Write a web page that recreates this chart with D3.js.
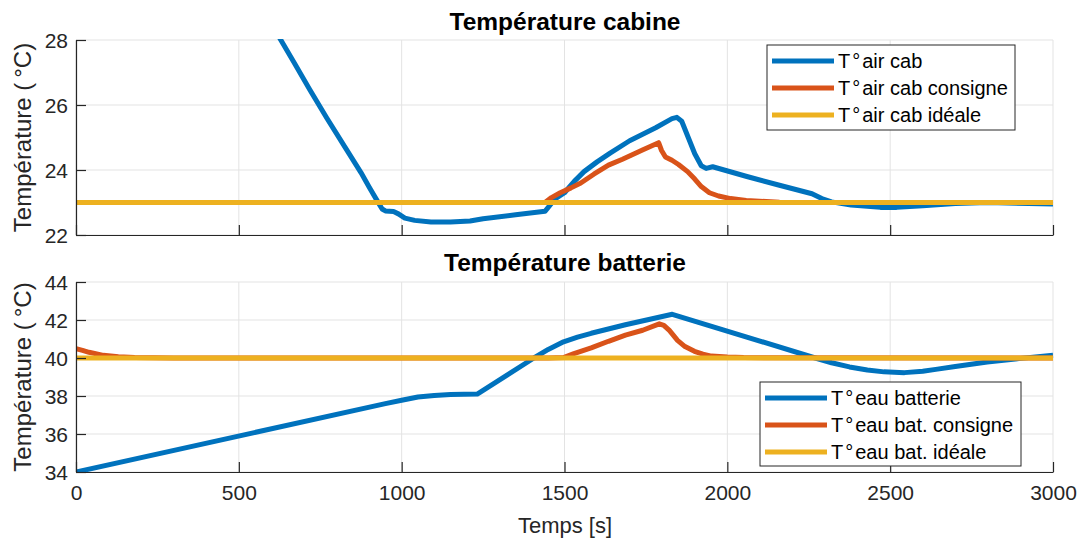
<!DOCTYPE html>
<html><head><meta charset="utf-8">
<script src="https://cdn.jsdelivr.net/npm/d3@7"></script>
<style>
body{margin:0;background:#fff;}
svg text{font-family:"Liberation Sans",Arial,Helvetica,sans-serif;}
</style></head>
<body>
<svg id="c" width="1079" height="542"></svg>
<script>
// ---- Data ----
const xTicks = [0,500,1000,1500,2000,2500,3000];
const cabTicks = [22,24,26,28];
const batTicks = [34,36,38,40,42,44];

const cabAirT = [500,600,629,670,718,770,825,875,900,925,940,950,975,990,1010,1040,1090,1150,1210,1250,1350,1440,1450,1470,1500,1530,1560,1600,1640,1700,1780,1830,1845,1860,1880,1900,1920,1935,1955,2060,2160,2260,2290,2320,2380,2470,2520,2600,2700,2800,3000];
const cabAirV = [30.3,28.5,28.0,27.3,26.47,25.6,24.72,23.92,23.48,23.05,22.8,22.74,22.72,22.65,22.52,22.45,22.4,22.4,22.43,22.5,22.62,22.73,22.85,23.1,23.3,23.65,23.95,24.25,24.52,24.9,25.3,25.58,25.62,25.5,25.0,24.5,24.13,24.05,24.1,23.8,23.53,23.27,23.12,23.02,22.92,22.85,22.85,22.9,22.97,23.0,22.95];

const cabSetT = [0,1440,1460,1487,1520,1550,1590,1635,1678,1741,1789,1798,1810,1830,1850,1878,1900,1920,1945,1973,2010,2058,2160,3000];
const cabSetV = [23,23,23.15,23.3,23.45,23.6,23.87,24.15,24.33,24.62,24.84,24.6,24.4,24.3,24.17,23.95,23.72,23.49,23.3,23.2,23.12,23.06,23.01,23];

const cabIdealT = [0,3000];
const cabIdealV = [23,23];

const batWaterT = [0,950,1000,1050,1100,1150,1232,1406,1450,1497,1540,1582,1687,1831,2270,2320,2375,2430,2481,2544,2600,2640,2700,2798,2900,3000];
const batWaterV = [34.0,37.6,37.78,37.95,38.03,38.08,38.1,40.0,40.45,40.85,41.1,41.3,41.75,42.3,40.0,39.75,39.53,39.37,39.27,39.23,39.3,39.4,39.55,39.79,39.98,40.14];

const batSetT = [0,20,40,84,130,180,300,1450,1497,1529,1582,1635,1687,1740,1791,1805,1822,1847,1870,1899,1925,1951,2000,2050,3000];
const batSetV = [40.49,40.4,40.3,40.14,40.07,40.03,40,40,40.02,40.23,40.53,40.88,41.2,41.46,41.8,41.72,41.45,40.93,40.6,40.35,40.2,40.1,40.05,40.02,40];

const batIdealT = [0,3000];
const batIdealV = [40,40];

const colors = ["#0072BD","#D95319","#EDB120"];
const cabLabels = ["T°air cab","T°air cab consigne","T°air cab idéale"];
const batLabels = ["T°eau batterie","T°eau bat. consigne","T°eau bat. idéale"];

// ---- Drawing ----
const svg = d3.select("#c");
const x = d3.scaleLinear().domain([0,3000]).range([76,1053]);

function degreeText(sel, label){
  const i = label.indexOf("°");
  sel.append("tspan").text(label.slice(0,i));
  sel.append("tspan").attr("dx",2).text("°");
  sel.append("tspan").attr("dx",2).text(label.slice(i+1));
}

function panel(id, yDomain, yRange, ticks, series, labels, title, titleY, legendBox, showXLabels){
  const y = d3.scaleLinear().domain(yDomain).range(yRange);
  const g = svg.append("g");
  const top = yRange[1], bot = yRange[0], left = x.range()[0], right = x.range()[1];
  // grid
  g.append("g").selectAll("line").data(xTicks).join("line")
    .attr("x1",d=>x(d)).attr("x2",d=>x(d)).attr("y1",top).attr("y2",bot)
    .attr("stroke","#e3e3e3").attr("stroke-width",1);
  g.append("g").selectAll("line").data(ticks).join("line")
    .attr("x1",left).attr("x2",right).attr("y1",d=>y(d)).attr("y2",d=>y(d))
    .attr("stroke","#e3e3e3").attr("stroke-width",1);
  // clip
  svg.append("clipPath").attr("id",id).append("rect")
    .attr("x",left).attr("y",top-1).attr("width",right-left+3).attr("height",bot-top+1);
  const line = d3.line().x(d=>x(d[0])).y(d=>y(d[1])).curve(d3.curveLinear);
  const lg = g.append("g").attr("clip-path",`url(#${id})`);
  series.forEach((s,i)=>{
    const pts = s[0].map((t,k)=>[t,s[1][k]]);
    lg.append("path").attr("d",line(pts)).attr("fill","none")
      .attr("stroke",colors[i]).attr("stroke-width",5).attr("stroke-linejoin","round");
  });
  // axes
  const ax = d3.axisBottom(x).tickValues(xTicks).tickSizeInner(-10).tickSizeOuter(0)
    .tickFormat(showXLabels? d3.format("d") : ()=> "").tickPadding(13);
  const xa = g.append("g").attr("transform",`translate(0,${bot})`).call(ax);
  const ay = d3.axisLeft(y).tickValues(ticks).tickFormat(d3.format("d"))
    .tickSizeInner(-10).tickSizeOuter(0).tickPadding(8);
  const ya = g.append("g").attr("transform",`translate(${left},0)`).call(ay);
  [xa,ya].forEach(a=>{
    a.select(".domain").attr("stroke","#262626").attr("stroke-width",1.2);
    a.selectAll(".tick line").attr("stroke","#262626").attr("stroke-width",1.2);
    a.selectAll(".tick text").attr("fill","#262626").style("font-size","21px")
      .style("font-family",'"Liberation Sans",Arial,sans-serif');
  });
  ya.selectAll(".tick text").attr("dy","0.36em");
  xa.selectAll(".tick text").attr("dy","0.71em");
  // title
  g.append("text").attr("x",565).attr("y",titleY).attr("text-anchor","middle")
    .style("font-size","24.5px").style("font-weight","bold").attr("fill","#000").text(title);
  // y label
  const yl = g.append("text").attr("transform",`translate(31,${(top+bot)/2}) rotate(-90)`)
    .attr("text-anchor","middle").style("font-size","24px").attr("fill","#262626");
  yl.append("tspan").text("Température (");
  yl.append("tspan").attr("dx",5).text("°C)");
  // legend
  const [lx,ly,lw,lh] = legendBox;
  const leg = g.append("g");
  leg.append("rect").attr("x",lx).attr("y",ly).attr("width",lw).attr("height",lh)
    .attr("fill","#fff").attr("stroke","#262626").attr("stroke-width",1);
  labels.forEach((lab,i)=>{
    const yy = ly + 16 + i*27;
    leg.append("line").attr("x1",lx+5).attr("x2",lx+67).attr("y1",yy).attr("y2",yy)
      .attr("stroke",colors[i]).attr("stroke-width",5);
    const t = leg.append("text").attr("x",lx+71).attr("y",yy).attr("dy","0.36em")
      .style("font-size","20px").attr("fill","#000");
    degreeText(t, lab);
  });
  return g;
}

panel("clipTop",[22,28],[235,40],cabTicks,
  [[cabAirT,cabAirV],[cabSetT,cabSetV],[cabIdealT,cabIdealV]],
  cabLabels,"Température cabine",30,[767,45,248,85],false);
panel("clipBot",[34,44],[472,282],batTicks,
  [[batWaterT,batWaterV],[batSetT,batSetV],[batIdealT,batIdealV]],
  batLabels,"Température batterie",271,[760,382,261,84],true);

svg.append("text").attr("x",565).attr("y",533).attr("text-anchor","middle")
  .style("font-size","22px").attr("fill","#262626").text("Temps [s]");
</script>
</body></html>
